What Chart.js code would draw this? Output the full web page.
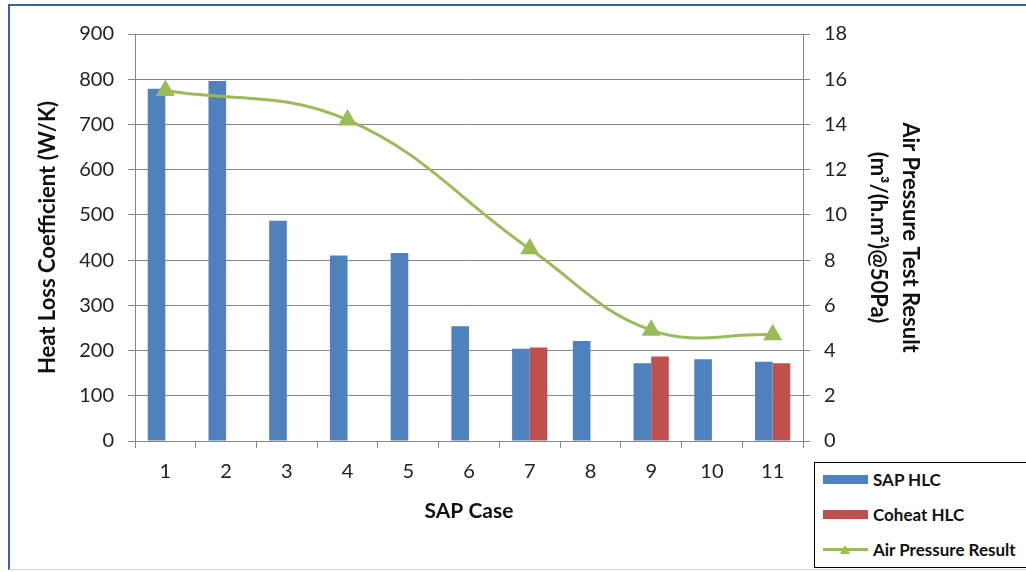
<!DOCTYPE html>
<html>
<head>
<meta charset="utf-8">
<script src="https://cdn.jsdelivr.net/npm/chart.js@4"></script>
<style>
  html, body { margin: 0; padding: 0; background: #fff; }
  #wrap { position: relative; width: 1026px; height: 572px; overflow: hidden; font-family: Lato, 'Liberation Sans', sans-serif; }
  #frame { position: absolute; left: 8px; top: 4px; width: 1040px; height: 563px; border-left: 2px solid #3b5f9f; border-top: 2px solid #3b5f9f; border-bottom: 1px solid #d8d8d8; }
  #chartBox { position: absolute; left: 0; top: 0; width: 1026px; height: 572px; }
  #legend { position: absolute; left: 814px; top: 462px; width: 240px; height: 104px; border: 1px solid #000; background: #fff; }
  .item { position: absolute; left: 8px; height: 20px; display: flex; align-items: center; font-weight: bold; font-size: 17px; color: #111; white-space: nowrap; }
  .swatch { width: 45px; height: 9px; margin-right: 5px; }
  .lineMark { position: relative; width: 45px; height: 9px; margin-right: 5px; }
  .lineMark .ln { position: absolute; left: 0; right: 0; top: 3px; height: 3px; }
  .lineMark .tri { position: absolute; left: 17px; top: 0; width: 0; height: 0; border-left: 5px solid transparent; border-right: 5px solid transparent; border-bottom: 9px solid; }
</style>
</head>
<body>
<div id="wrap">
  <div id="frame"></div>
  <div id="chartBox"><canvas id="hlcChart"></canvas></div>
  <div id="legend"></div>
</div>
<script>
// ---- data ----
const categories = ['1', '2', '3', '4', '5', '6', '7', '8', '9', '10', '11'];
const sapHlc = [779, 796, 487, 410, 416, 254, 204, 221, 172, 181, 175];
const coheatHlc = [null, null, null, null, null, null, 207, null, 187, null, 172];
const airPressure = [15.5, null, null, 14.2, null, null, 8.5, null, 4.9, null, 4.7];
const hlcTicks = [0, 100, 200, 300, 400, 500, 600, 700, 800, 900];
const airTicks = [0, 2, 4, 6, 8, 10, 12, 14, 16, 18];

const seriesNames = ['SAP HLC', 'Coheat HLC', 'Air Pressure Result'];
const blue = '#4f81bd';
const red = '#c0504d';
const green = '#9bbb59';
const axisGrey = '#878787';
const fontFamily = "Lato, 'Liberation Sans', sans-serif";

function buildChart() {
  const ctx = document.getElementById('hlcChart');

  return new Chart(ctx, {
    type: 'bar',
    data: {
      labels: categories,
      datasets: [
        {
          type: 'line',
          label: seriesNames[2],
          data: airPressure,
          yAxisID: 'y1',
          borderColor: green,
          backgroundColor: green,
          borderWidth: 3,
          tension: 0.4,
          spanGaps: true,
          pointStyle: 'triangle',
          pointRadius: 8,
          pointBackgroundColor: green,
          pointBorderColor: green,
          order: 0
        },
        {
          label: seriesNames[0],
          data: sapHlc,
          yAxisID: 'y',
          backgroundColor: blue,
          categoryPercentage: 0.58,
          barPercentage: 1,
          order: 1
        },
        {
          label: seriesNames[1],
          data: coheatHlc,
          yAxisID: 'y',
          backgroundColor: red,
          categoryPercentage: 0.58,
          barPercentage: 1,
          order: 1
        }
      ]
    },
    options: {
      responsive: true,
      maintainAspectRatio: false,
      animation: false,
      layout: { padding: { top: 34, left: 0, right: 0, bottom: 0 } },
      plugins: {
        legend: { display: false },
        tooltip: { enabled: false }
      },
      scales: {
        x: {
          offset: true,
          grid: { display: true, offset: true, drawOnChartArea: false, drawTicks: true, tickLength: 7, color: axisGrey },
          border: { color: axisGrey, width: 1 },
          ticks: { color: '#222', font: { family: fontFamily, size: 20 }, padding: 12, maxRotation: 0 },
          title: { display: true, text: 'SAP Case', color: '#111', font: { family: fontFamily, size: 21, weight: 'bold' }, padding: { top: 0, bottom: 48 } },
          afterFit: function (scale) { scale.height = 131; }
        },
        y: {
          position: 'left',
          min: hlcTicks[0],
          max: hlcTicks[hlcTicks.length - 1],
          ticks: { stepSize: hlcTicks[1] - hlcTicks[0], color: '#222', font: { family: fontFamily, size: 20 }, padding: 14 },
          grid: { color: axisGrey, tickLength: 7, drawTicks: true },
          border: { color: axisGrey, width: 1 },
          title: { display: true, text: 'Heat Loss Coefficient (W/K)', color: '#111', font: { family: fontFamily, size: 22, weight: 'bold' }, padding: { top: 35, bottom: 0 } },
          afterFit: function (scale) { scale.width = 135; }
        },
        y1: {
          position: 'right',
          min: airTicks[0],
          max: airTicks[airTicks.length - 1],
          ticks: { stepSize: airTicks[1] - airTicks[0], color: '#222', font: { family: fontFamily, size: 20 }, padding: 14 },
          grid: { drawOnChartArea: false, color: axisGrey, tickLength: 7, drawTicks: true },
          border: { color: axisGrey, width: 1 },
          title: {
            display: true,
            text: ['Air Pressure Test Result', '(m\u00b3/(h.m\u00b2)@50Pa)'],
            color: '#111',
            font: { family: fontFamily, size: 22, weight: 'bold', lineHeight: 1.45 },
            padding: { top: 100, bottom: 0 }
          },
          afterFit: function (scale) { scale.width = 223; }
        }
      }
    }
  });
}

// Legend drawn as html so it can sit below the right axis like in the original
function buildLegend(chart) {
  const legend = document.getElementById('legend');
  const rows = [
    { name: seriesNames[0], kind: 'bar', color: blue, top: 6 },
    { name: seriesNames[1], kind: 'bar', color: red, top: 41 },
    { name: seriesNames[2], kind: 'line', color: green, top: 76 }
  ];
  rows.forEach(function (r) {
    const item = document.createElement('div');
    item.className = 'item';
    item.style.top = r.top + 'px';
    let mark;
    if (r.kind === 'bar') {
      mark = '<span class="swatch" style="background:' + r.color + '"></span>';
    } else {
      mark = '<span class="lineMark"><span class="ln" style="background:' + r.color + '"></span>' +
             '<span class="tri" style="border-bottom-color:' + r.color + '"></span></span>';
    }
    item.innerHTML = mark + '<span>' + r.name + '</span>';
    legend.appendChild(item);
  });
}

const hlcChart = buildChart();
buildLegend(hlcChart);
</script>
</body>
</html>
